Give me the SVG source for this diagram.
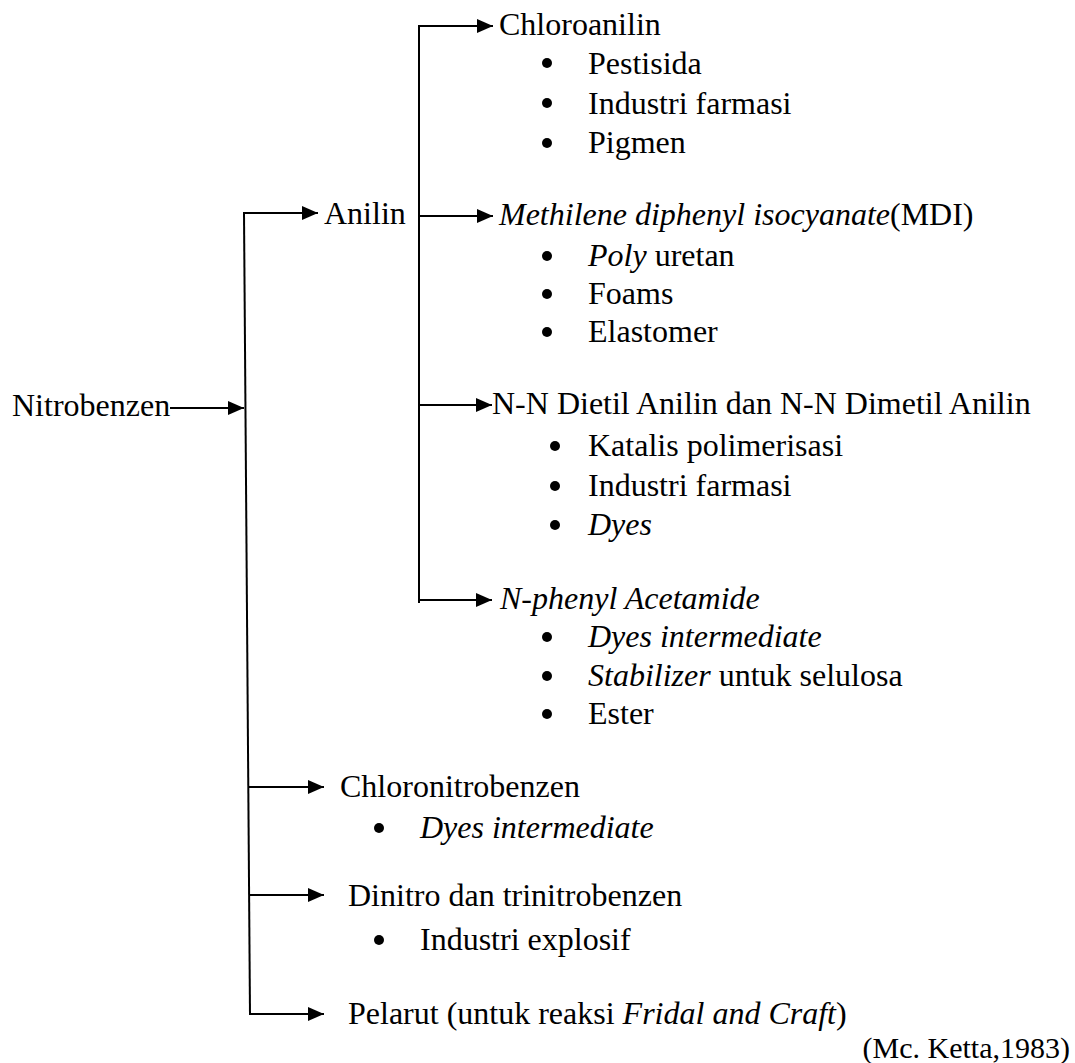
<svg xmlns="http://www.w3.org/2000/svg" width="1075" height="1063" viewBox="0 0 1075 1063">
<style>
text{font-family:"Liberation Serif","Times New Roman",serif;font-size:32px;fill:#000}
.i{font-style:italic}
.ln{stroke:#000;stroke-width:2;fill:none}
.ar{stroke:#000;stroke-width:2;fill:none;marker-end:url(#ah)}
.b{fill:#000}
</style>
<defs>
<marker id="ah" markerUnits="userSpaceOnUse" markerWidth="16" markerHeight="14" refX="16" refY="7" orient="auto">
<path d="M0,0 L16,7 L0,14 z" fill="#000"/>
</marker>
</defs>
<rect width="1075" height="1063" fill="#fff"/>
<g id="connectors">
<line class="ar" x1="170" y1="408" x2="244" y2="408"/>
<line class="ln" x1="244" y1="213" x2="250" y2="1015"/>
<line class="ar" x1="243" y1="213" x2="318" y2="213"/>
<line class="ln" x1="419" y1="25" x2="419" y2="603"/>
<line class="ar" x1="418" y1="26" x2="493" y2="26"/>
<line class="ar" x1="419" y1="216" x2="493" y2="216"/>
<line class="ar" x1="419" y1="405" x2="492" y2="405"/>
<line class="ar" x1="419" y1="600" x2="492" y2="600"/>
<line class="ar" x1="249" y1="787" x2="324" y2="787"/>
<line class="ar" x1="249" y1="895" x2="324" y2="895"/>
<line class="ar" x1="249" y1="1014" x2="324" y2="1014"/>
</g>
<g id="nitrobenzen"><text x="12" y="416">Nitrobenzen</text></g>
<g id="anilin"><text x="324" y="224">Anilin</text></g>
<g id="chloroanilin">
<text x="499" y="35">Chloroanilin</text>
<circle class="b" cx="547" cy="63" r="5"/><text x="588" y="74">Pestisida</text>
<circle class="b" cx="547" cy="103" r="5"/><text x="588" y="114">Industri farmasi</text>
<circle class="b" cx="547" cy="143" r="5"/><text x="588" y="153">Pigmen</text>
</g>
<g id="mdi">
<text x="499" y="225"><tspan class="i">Methilene diphenyl isocyanate</tspan>(MDI)</text>
<circle class="b" cx="547" cy="256" r="5"/><text x="588" y="266"><tspan class="i">Poly</tspan> uretan</text>
<circle class="b" cx="547" cy="294" r="5"/><text x="588" y="304">Foams</text>
<circle class="b" cx="547" cy="332" r="5"/><text x="588" y="342">Elastomer</text>
</g>
<g id="nn-anilin">
<text x="492" y="414">N-N Dietil Anilin dan N-N Dimetil Anilin</text>
<circle class="b" cx="555" cy="446" r="5"/><text x="588" y="456">Katalis polimerisasi</text>
<circle class="b" cx="555" cy="486" r="5"/><text x="588" y="496">Industri farmasi</text>
<circle class="b" cx="555" cy="525" r="5"/><text x="588" y="535" class="i">Dyes</text>
</g>
<g id="n-phenyl">
<text x="500" y="609" class="i">N-phenyl Acetamide</text>
<circle class="b" cx="547" cy="637" r="5"/><text x="588" y="647" class="i">Dyes intermediate</text>
<circle class="b" cx="547" cy="676" r="5"/><text x="588" y="686"><tspan class="i">Stabilizer</tspan> untuk selulosa</text>
<circle class="b" cx="547" cy="714" r="5"/><text x="588" y="724">Ester</text>
</g>
<g id="chloronitrobenzen">
<text x="340" y="797">Chloronitrobenzen</text>
<circle class="b" cx="379" cy="828" r="5"/><text x="420" y="838" class="i">Dyes intermediate</text>
</g>
<g id="dinitro">
<text x="348" y="906">Dinitro dan trinitrobenzen</text>
<circle class="b" cx="379" cy="940" r="5"/><text x="420" y="950">Industri explosif</text>
</g>
<g id="pelarut">
<text x="348" y="1024">Pelarut (untuk reaksi <tspan class="i">Fridal and Craft</tspan>)</text>
</g>
<g id="source"><text x="1070" y="1058" text-anchor="end" style="font-size:30px">(Mc. Ketta,1983)</text></g>
</svg>
